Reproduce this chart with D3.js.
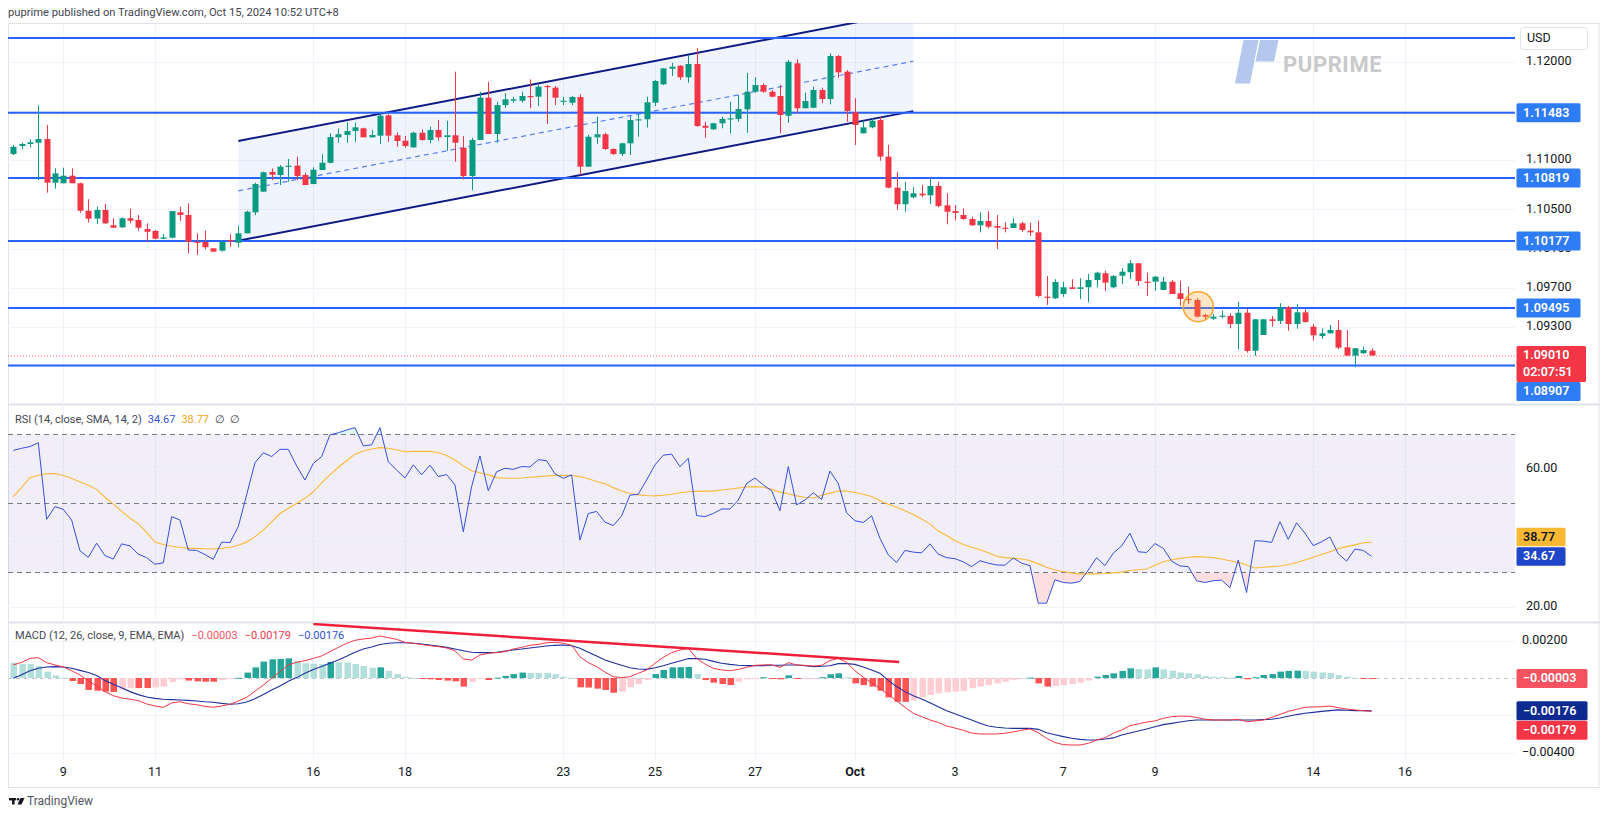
<!DOCTYPE html>
<html><head><meta charset="utf-8">
<script src="https://cdn.jsdelivr.net/npm/d3@7"></script>
<style>
html,body{margin:0;padding:0;background:#fff;}
svg{display:block;font-family:Roboto,"Noto Sans",sans-serif;}
</style></head><body>
<svg id="c" width="1600" height="819"></svg>
<script>
// ---------------- DATA ----------------
const opens=[1.11063,1.11145,1.11165,1.11178,1.11216,1.10771,1.10765,1.10842,1.10765,1.10485,
1.10404,1.10493,1.10337,1.10316,1.10408,1.10391,1.10299,1.10279,1.10200,1.10210,
1.10469,1.10442,1.10170,1.10167,1.10102,1.10078,1.10187,1.10159,1.10255,1.10469,
1.10679,1.10880,1.10849,1.10941,1.10944,1.10849,1.10757,1.10900,1.10974,1.11233,
1.11257,1.11297,1.11325,1.11233,1.11250,1.11457,1.11254,1.11199,1.11131,1.11280,
1.11206,1.11308,1.11236,1.11254,1.11127,1.10839,1.11206,1.11637,1.11267,1.11562,
1.11606,1.11606,1.11654,1.11647,1.11756,1.11739,1.11600,1.11586,1.11644,1.10934,
1.11233,1.11264,1.11114,1.11063,1.11172,1.11409,1.11417,1.11586,1.11773,1.11932,
1.11963,1.11845,1.11980,1.11351,1.11315,1.11376,1.11420,1.11420,1.11518,1.11698,
1.11766,1.11698,1.11654,1.11453,1.11987,1.11529,1.11535,1.11715,1.11623,1.12062,
1.11902,1.11488,1.11274,1.11335,1.11409,1.11036,1.10720,1.10551,1.10622,1.10659,
1.10642,1.10737,1.10540,1.10482,1.10442,1.10401,1.10337,1.10381,1.10330,1.10312,
1.10309,1.10357,1.10282,1.10265,1.09609,1.09593,1.09637,1.09705,1.09688,1.09705,
1.09779,1.09848,1.09705,1.09823,1.09858,1.09950,1.09762,1.09762,1.09678,1.09762,
1.09644,1.09586,1.09576,1.09423,1.09385,1.09406,1.09413,1.09331,1.09446,1.09059,
1.09219,1.09379,1.09362,1.09501,1.09331,1.09450,1.09304,1.09209,1.09236,1.09270,
1.09094,1.09008,1.09033,1.09059];
const highs=[1.11155,1.11178,1.11213,1.11559,1.11359,1.10917,1.10924,1.10917,1.10771,1.10602,
1.10526,1.10554,1.10408,1.10418,1.10506,1.10442,1.10357,1.10289,1.10248,1.10482,
1.10526,1.10561,1.10255,1.10282,1.10102,1.10187,1.10248,1.10330,1.10485,1.10771,
1.10883,1.10917,1.10951,1.11012,1.11036,1.10873,1.10928,1.11060,1.11274,1.11325,
1.11386,1.11382,1.11331,1.11308,1.11478,1.11468,1.11284,1.11246,1.11290,1.11315,
1.11341,1.11409,1.11402,1.11902,1.11246,1.11229,1.11698,1.11800,1.11596,1.11682,
1.11647,1.11698,1.11824,1.11766,1.11766,1.11756,1.11647,1.11654,1.11674,1.11257,
1.11443,1.11280,1.11121,1.11178,1.11450,1.11484,1.11647,1.11817,1.11936,1.11993,
1.11970,1.12072,1.12140,1.11392,1.11382,1.11443,1.11596,1.11664,1.11891,1.11845,
1.11783,1.11715,1.11766,1.12021,1.12028,1.11688,1.11749,1.11739,1.12089,1.12072,
1.11919,1.11631,1.11402,1.11427,1.11443,1.11155,1.10883,1.10781,1.10724,1.10747,
1.10816,1.10781,1.10663,1.10543,1.10510,1.10424,1.10469,1.10482,1.10442,1.10367,
1.10408,1.10373,1.10363,1.10384,1.09820,1.09787,1.09762,1.09787,1.09797,1.09841,
1.09864,1.09874,1.09830,1.09899,1.09983,1.09950,1.09854,1.09820,1.09813,1.09779,
1.09772,1.09711,1.09593,1.09433,1.09433,1.09467,1.09440,1.09558,1.09491,1.09379,
1.09379,1.09413,1.09542,1.09515,1.09535,1.09481,1.09331,1.09287,1.09321,1.09372,
1.09270,1.09084,1.09100,1.09084];
const lows=[1.11053,1.11111,1.11131,1.10798,1.10669,1.10710,1.10765,1.10765,1.10465,1.10363,
1.10350,1.10350,1.10312,1.10309,1.10357,1.10282,1.10170,1.10194,1.10194,1.10204,
1.10381,1.10051,1.10034,1.10092,1.10068,1.10068,1.10119,1.10113,1.10255,1.10442,
1.10679,1.10798,1.10747,1.10781,1.10798,1.10747,1.10757,1.10900,1.10968,1.11178,
1.11178,1.11188,1.11233,1.11233,1.11165,1.11188,1.11137,1.11127,1.11127,1.11199,
1.11172,1.11199,1.11097,1.10985,1.10805,1.10696,1.11206,1.11267,1.11178,1.11535,
1.11586,1.11586,1.11529,1.11552,1.11369,1.11562,1.11562,1.11562,1.10849,1.10934,
1.11165,1.11104,1.11053,1.11043,1.11053,1.11239,1.11335,1.11552,1.11766,1.11858,
1.11817,1.11790,1.11341,1.11229,1.11308,1.11325,1.11274,1.11392,1.11280,1.11688,
1.11688,1.11641,1.11274,1.11382,1.11478,1.11529,1.11529,1.11580,1.11569,1.11840,
1.11392,1.11155,1.11274,1.11325,1.10995,1.10714,1.10493,1.10475,1.10612,1.10622,
1.10554,1.10520,1.10347,1.10384,1.10391,1.10330,1.10265,1.10306,1.10095,1.10265,
1.10309,1.10268,1.10228,1.09603,1.09525,1.09586,1.09609,1.09688,1.09586,1.09552,
1.09705,1.09667,1.09695,1.09739,1.09790,1.09721,1.09616,1.09670,1.09678,1.09637,
1.09518,1.09535,1.09399,1.09372,1.09372,1.09389,1.09287,1.09073,1.09039,1.09005,
1.09219,1.09304,1.09331,1.09263,1.09283,1.09344,1.09161,1.09181,1.09236,1.09073,
1.09008,1.08890,1.09025,1.09005];
const closes=[1.11137,1.11165,1.11182,1.11216,1.10771,1.10866,1.10842,1.10765,1.10485,1.10404,
1.10493,1.10357,1.10312,1.10408,1.10384,1.10312,1.10271,1.10200,1.10214,1.10482,
1.10442,1.10170,1.10164,1.10113,1.10068,1.10167,1.10180,1.10255,1.10475,1.10757,
1.10877,1.10852,1.10934,1.10944,1.10839,1.10747,1.10903,1.10974,1.11236,1.11264,
1.11297,1.11335,1.11233,1.11257,1.11453,1.11250,1.11196,1.11145,1.11280,1.11206,
1.11308,1.11233,1.11254,1.11178,1.10839,1.11206,1.11637,1.11267,1.11562,1.11620,
1.11620,1.11654,1.11647,1.11749,1.11749,1.11637,1.11606,1.11644,1.10934,1.11239,
1.11264,1.11114,1.11063,1.11172,1.11409,1.11417,1.11590,1.11807,1.11936,1.11953,
1.11845,1.11980,1.11348,1.11331,1.11376,1.11420,1.11427,1.11522,1.11698,1.11766,
1.11698,1.11647,1.11460,1.12003,1.11529,1.11603,1.11715,1.11623,1.12062,1.11895,
1.11501,1.11359,1.11335,1.11402,1.11036,1.10720,1.10551,1.10686,1.10663,1.10642,
1.10737,1.10533,1.10475,1.10462,1.10401,1.10337,1.10381,1.10322,1.10312,1.10302,
1.10357,1.10289,1.10265,1.09616,1.09599,1.09759,1.09705,1.09688,1.09705,1.09779,
1.09854,1.09752,1.09820,1.09864,1.09950,1.09769,1.09752,1.09813,1.09762,1.09637,
1.09586,1.09576,1.09406,1.09406,1.09406,1.09416,1.09331,1.09446,1.09056,1.09379,
1.09379,1.09362,1.09501,1.09331,1.09450,1.09352,1.09216,1.09236,1.09270,1.09090,
1.09008,1.09084,1.09066,1.09010];
const rsi=[65.4,66.0,66.5,67.6,45.4,49.1,48.3,45.2,36.3,34.4,
38.5,34.9,33.9,38.3,37.7,35.3,34.3,32.4,32.8,46.2,
45.2,36.5,36.4,35.2,33.8,38.8,38.7,43.3,52.5,61.8,
64.7,63.6,65.7,65.7,60.9,56.8,61.6,63.6,69.9,70.5,
71.3,72.0,66.7,67.0,72.0,62.1,59.7,57.4,61.2,58.3,
61.1,57.8,58.4,55.4,41.8,54.9,63.8,53.7,59.2,60.2,
59.9,60.7,60.6,62.7,62.4,58.6,57.3,58.3,39.4,47.1,
47.7,44.6,43.6,46.4,52.4,52.7,56.8,61.2,64.0,64.3,
60.7,63.1,46.5,46.2,47.1,48.4,48.4,51.0,55.8,57.4,
55.4,53.7,47.9,60.7,49.6,51.0,53.1,51.2,59.4,55.8,
47.3,45.0,44.5,46.4,39.9,35.1,32.9,36.4,35.9,35.7,
38.3,35.3,34.3,34.0,33.1,31.7,33.4,32.7,32.2,32.1,
34.2,32.7,32.0,21.1,21.1,27.9,27.1,26.9,27.4,30.7,
34.3,32.0,35.6,37.7,41.4,36.0,35.8,38.4,37.0,33.3,
31.9,31.7,27.6,27.1,27.6,27.8,25.6,33.6,24.2,39.2,
39.1,38.7,44.7,39.6,44.4,41.4,37.8,38.9,40.3,35.4,
33.3,36.8,36.4,34.67];
const rsiSma=[52.0,54.7,57.5,58.2,58.6,58.7,58.1,57.3,56.2,55.3,
54.1,51.8,49.8,47.8,45.7,44.1,41.6,38.8,38.1,37.6,
37.3,37.0,37.0,36.9,36.8,37.0,37.3,37.9,38.8,40.4,
42.3,44.7,47.1,48.6,50.0,51.5,53.4,56.0,58.3,60.5,
62.4,64.3,65.2,65.8,66.2,66.0,65.6,65.0,65.1,65.1,
65.1,64.7,63.9,62.6,60.9,59.5,58.9,58.3,57.5,57.3,
57.3,57.4,57.6,57.8,58.0,58.1,58.2,58.1,57.8,57.2,
56.4,55.7,54.6,53.6,52.9,52.5,52.3,52.2,52.4,52.7,
53.1,53.4,53.5,53.6,53.6,53.9,54.2,54.5,54.8,54.9,
54.7,54.1,53.3,52.8,52.2,51.8,51.6,52.4,53.0,53.6,
53.6,53.2,52.7,52.0,50.8,49.8,48.9,47.9,46.8,45.5,
44.1,42.0,40.7,39.2,38.1,37.3,36.6,35.7,34.7,34.3,
34.1,33.9,33.5,32.5,31.5,30.7,30.3,29.9,29.6,29.6,
29.6,29.7,29.9,30.1,30.6,30.8,31.0,32.1,33.1,33.7,
34.1,34.4,34.6,34.5,34.3,33.9,33.4,32.9,32.2,31.3,
31.5,31.7,31.9,32.3,32.9,33.6,34.4,35.2,36.0,36.9,
37.5,38.0,38.6,38.77];
const macdLine=[0.00070,0.00084,0.00105,0.00109,0.00082,0.00070,0.00059,0.00039,0.00016,-0.00014,
-0.00043,-0.00073,-0.00095,-0.00107,-0.00114,-0.00121,-0.00139,-0.00150,-0.00157,-0.00134,
-0.00127,-0.00138,-0.00143,-0.00152,-0.00157,-0.00150,-0.00141,-0.00123,-0.00104,-0.00071,
-0.00038,-0.00002,0.00034,0.00070,0.00084,0.00093,0.00105,0.00118,0.00141,0.00164,
0.00186,0.00202,0.00209,0.00214,0.00225,0.00216,0.00207,0.00191,0.00186,0.00179,
0.00173,0.00168,0.00161,0.00146,0.00102,0.00096,0.00123,0.00132,0.00136,0.00141,
0.00155,0.00164,0.00175,0.00180,0.00189,0.00191,0.00186,0.00175,0.00114,0.00082,
0.00061,0.00032,0.00007,0.00002,0.00007,0.00025,0.00043,0.00079,0.00111,0.00136,
0.00150,0.00159,0.00105,0.00075,0.00052,0.00043,0.00039,0.00046,0.00057,0.00068,
0.00070,0.00071,0.00057,0.00082,0.00070,0.00068,0.00064,0.00068,0.00093,0.00105,
0.00084,0.00039,0.00004,-0.00025,-0.00057,-0.00088,-0.00123,-0.00157,-0.00189,-0.00207,
-0.00225,-0.00238,-0.00257,-0.00268,-0.00280,-0.00295,-0.00300,-0.00300,-0.00300,-0.00296,
-0.00289,-0.00280,-0.00273,-0.00293,-0.00323,-0.00346,-0.00357,-0.00359,-0.00359,-0.00350,
-0.00332,-0.00320,-0.00296,-0.00279,-0.00255,-0.00246,-0.00236,-0.00230,-0.00216,-0.00207,
-0.00204,-0.00205,-0.00211,-0.00221,-0.00225,-0.00225,-0.00225,-0.00221,-0.00234,-0.00230,
-0.00225,-0.00211,-0.00195,-0.00179,-0.00168,-0.00157,-0.00155,-0.00154,-0.00150,-0.00159,
-0.00166,-0.00171,-0.00175,-0.00179];
const signalLine=[-0.00002,0.00018,0.00039,0.00052,0.00059,0.00061,0.00059,0.00052,0.00041,0.00029,
0.00013,-0.00014,-0.00034,-0.00052,-0.00073,-0.00089,-0.00102,-0.00109,-0.00114,-0.00116,
-0.00118,-0.00120,-0.00123,-0.00127,-0.00130,-0.00136,-0.00141,-0.00138,-0.00129,-0.00111,
-0.00088,-0.00064,-0.00043,-0.00018,0.00002,0.00025,0.00045,0.00061,0.00079,0.00096,
0.00116,0.00138,0.00155,0.00166,0.00179,0.00186,0.00189,0.00189,0.00186,0.00182,
0.00177,0.00171,0.00164,0.00155,0.00146,0.00138,0.00136,0.00136,0.00138,0.00145,
0.00150,0.00155,0.00161,0.00166,0.00171,0.00175,0.00177,0.00173,0.00159,0.00138,
0.00118,0.00096,0.00082,0.00068,0.00055,0.00048,0.00046,0.00055,0.00066,0.00079,
0.00091,0.00104,0.00104,0.00100,0.00089,0.00079,0.00073,0.00068,0.00066,0.00066,
0.00066,0.00068,0.00068,0.00070,0.00070,0.00066,0.00061,0.00063,0.00066,0.00077,
0.00077,0.00073,0.00059,0.00043,0.00025,-0.00013,-0.00046,-0.00073,-0.00095,-0.00113,
-0.00132,-0.00154,-0.00175,-0.00191,-0.00209,-0.00225,-0.00243,-0.00257,-0.00264,-0.00268,
-0.00270,-0.00270,-0.00270,-0.00275,-0.00293,-0.00304,-0.00314,-0.00323,-0.00329,-0.00332,
-0.00332,-0.00327,-0.00321,-0.00305,-0.00295,-0.00284,-0.00273,-0.00261,-0.00250,-0.00243,
-0.00236,-0.00229,-0.00225,-0.00225,-0.00225,-0.00225,-0.00225,-0.00225,-0.00225,-0.00225,
-0.00223,-0.00221,-0.00214,-0.00205,-0.00196,-0.00189,-0.00184,-0.00179,-0.00175,-0.00171,
-0.00173,-0.00175,-0.00175,-0.00176];
const macdHist=[0.00082,0.00075,0.00075,0.00064,0.00034,0.00014,0.00002,-0.00016,-0.00032,-0.00064,
-0.00068,-0.00073,-0.00075,-0.00064,-0.00054,-0.00054,-0.00054,-0.00050,-0.00046,-0.00021,
-0.00007,-0.00014,-0.00018,-0.00020,-0.00020,-0.00011,-0.00005,0.00001,0.00029,0.00057,
0.00088,0.00100,0.00102,0.00105,0.00091,0.00079,0.00077,0.00075,0.00086,0.00084,
0.00083,0.00075,0.00064,0.00055,0.00057,0.00038,0.00021,0.00007,0.00002,-0.00005,
-0.00007,-0.00011,-0.00014,-0.00018,-0.00046,-0.00021,-0.00005,-0.00011,0.00002,0.00011,
0.00021,0.00029,0.00027,0.00027,0.00027,0.00021,0.00007,0.00001,-0.00050,-0.00051,
-0.00057,-0.00064,-0.00079,-0.00073,-0.00050,-0.00032,-0.00011,0.00021,0.00043,0.00057,
0.00058,0.00059,0.00021,-0.00011,-0.00025,-0.00032,-0.00038,-0.00020,-0.00007,-0.00001,
0.00004,-0.00004,-0.00007,0.00014,-0.00004,-0.00002,-0.00001,0.00004,0.00020,0.00025,
0.00004,-0.00029,-0.00038,-0.00046,-0.00068,-0.00104,-0.00127,-0.00128,-0.00121,-0.00104,
-0.00091,-0.00082,-0.00077,-0.00073,-0.00070,-0.00055,-0.00046,-0.00038,-0.00029,-0.00020,
-0.00011,-0.00005,0.00002,-0.00029,-0.00046,-0.00043,-0.00038,-0.00032,-0.00025,-0.00014,
0.00007,0.00016,0.00025,0.00038,0.00052,0.00048,0.00046,0.00057,0.00046,0.00039,
0.00030,0.00025,0.00020,0.00011,0.00007,0.00006,0.00002,0.00011,-0.00007,0.00004,
0.00016,0.00021,0.00034,0.00038,0.00039,0.00038,0.00034,0.00030,0.00027,0.00016,
0.00007,0.00001,-0.00002,-0.00003];

const levelPrices=[1.12245,1.11483,1.10819,1.10177,1.09495,1.08907];
const levelLabeled=[false,true,true,true,true,true];
const priceTicks=[1.12,1.115,1.11,1.105,1.101,1.097,1.093,1.089,1.085];
const priceTickLabels=[1.12,1.11,1.105,1.097,1.093];
const partialTickLabels=[1.101,1.085];
const rsiTicks=[60,40,20];
const rsiTickLabels=[60,20];
const rsiLevels=[70,50,30];
const macdTicks=[0.002,-0.002,-0.004];
const macdTickLabels=[0.002,-0.004];
const dateIdx=[6,17,36,47,66,77,89,101,113,126,137,156,167];
const dateLabels=["9","11","16","18","23","25","27","Oct","3","7","9","14","16"];
const channelIdx=[27,108];
const channelLower=[1.10180,1.11500];
const channelUpper=[1.11196,1.12516];
const trendIdx=[36,106.3];
const trendVal=[0.00289,0.00086];
const markerIdx=142.2, markerPrice=1.09507;
const lastPrice=1.09010, countdown="02:07:51";

// ---------------- LAYOUT ----------------
const L=8, R=1515;
const svg=d3.select('#c');
const x=d3.scaleLinear().domain([0,163]).range([13.3,1371.6]);
const y=d3.scaleLinear().domain([1.12398,1.08526]).range([23,403]);
const ry=d3.scaleLinear().domain([78.55,15.94]).range([405,621]);
const my=d3.scaleLinear().domain([0.002946,-0.004393]).range([623,760]);
const idx=d3.range(opens.length);
const UP="#089981", DN="#f23645";

const defs=svg.append('defs');
function clip(id,x0,y0,w,h){defs.append('clipPath').attr('id',id).append('rect').attr('x',x0).attr('y',y0).attr('width',w).attr('height',h);}
clip('cm',L,23,R-L,381); clip('cr',L,405,R-L,216); clip('cq',L,623,R-L,137);
clip('cax',R,23,100,381);
clip('rsiLow',L,ry(30),R-L,621-ry(30)); clip('rsiHigh',L,405,R-L,ry(70)-405);

svg.append('rect').attr('width',1600).attr('height',819).attr('fill','#fff');

// header
svg.append('text').attr('x',8).attr('y',13).attr('dominant-baseline','middle')
  .attr('font-size',11.2).attr('fill','#434651').text('puprime published on TradingView.com, Oct 15, 2024 10:52 UTC+8');

// borders
const border='#e0e3eb';
svg.append('rect').attr('x',L+0.5).attr('y',23.5).attr('width',1600-L-1.5).attr('height',764).attr('fill','none').attr('stroke',border);
[404,622].forEach(v=>svg.append('line').attr('x1',L).attr('x2',1600).attr('y1',v+0.5).attr('y2',v+0.5).attr('stroke',border).attr('stroke-width',2));

// vertical grid
const grid='#f0f3fa';
svg.append('g').selectAll('line').data(dateIdx).join('line')
  .attr('x1',d=>Math.round(x(d))+0.5).attr('x2',d=>Math.round(x(d))+0.5).attr('y1',24).attr('y2',760)
  .attr('stroke',grid);
// horizontal grid main
const gm=svg.append('g').attr('clip-path','url(#cm)');
gm.selectAll('line.g').data(priceTicks).join('line')
  .attr('x1',L).attr('x2',R).attr('y1',d=>Math.round(y(d))+0.5).attr('y2',d=>Math.round(y(d))+0.5).attr('stroke',grid);

// watermark
const wm=svg.append('g');
wm.append('polygon').attr('points','1243.5,40 1258.5,40 1250,83.5 1235,83.5').attr('fill','#b3c8ec');
wm.append('polygon').attr('points','1260,40 1278.5,40 1274,61.5 1255.5,61.5').attr('fill','#b3c8ec');
wm.append('text').attr('x',1283).attr('y',71.5).attr('font-size',22).attr('font-weight',700)
  .attr('fill','#c9c9c9').attr('letter-spacing',0.6).text('PUPRIME');

// channel
const pts=[[x(channelIdx[0]),y(channelUpper[0])],[x(channelIdx[1]),y(channelUpper[1])],
           [x(channelIdx[1]),y(channelLower[1])],[x(channelIdx[0]),y(channelLower[0])]];
gm.append('polygon').attr('points',pts.map(p=>p.join(',')).join(' ')).attr('fill','rgba(41,98,255,0.07)');
const midLine=[(channelUpper[0]+channelLower[0])/2,(channelUpper[1]+channelLower[1])/2];
gm.append('line').attr('x1',x(channelIdx[0])).attr('x2',x(channelIdx[1]))
  .attr('y1',y(midLine[0])).attr('y2',y(midLine[1])).attr('stroke','#5b7ff5').attr('stroke-width',1.2).attr('stroke-dasharray','5,4');
[channelUpper,channelLower].forEach(c=>gm.append('line').attr('x1',x(channelIdx[0])).attr('x2',x(channelIdx[1]))
  .attr('y1',y(c[0])).attr('y2',y(c[1])).attr('stroke','#0e1a84').attr('stroke-width',2));

// level lines
gm.selectAll('line.lv').data(levelPrices).join('line')
  .attr('x1',L).attr('x2',R).attr('y1',d=>y(d)).attr('y2',d=>y(d)).attr('stroke','#2962ff').attr('stroke-width',2);

// last price dotted
gm.append('line').attr('x1',L).attr('x2',R).attr('y1',y(lastPrice)+0.5).attr('y2',y(lastPrice)+0.5)
  .attr('stroke',DN).attr('stroke-dasharray','1,2').attr('opacity',0.8);

// candles
const gc=gm.append('g');
gc.selectAll('line.w').data(idx).join('line')
  .attr('x1',i=>Math.round(x(i))+0.5).attr('x2',i=>Math.round(x(i))+0.5)
  .attr('y1',i=>y(highs[i])).attr('y2',i=>y(lows[i]))
  .attr('stroke',i=>closes[i]>=opens[i]?UP:DN).attr('stroke-width',1);
gc.selectAll('rect.b').data(idx).join('rect')
  .attr('x',i=>Math.round(x(i))-2.5).attr('width',6)
  .attr('y',i=>y(Math.max(opens[i],closes[i])))
  .attr('height',i=>Math.max(1.2,Math.abs(y(opens[i])-y(closes[i]))))
  .attr('fill',i=>closes[i]>=opens[i]?UP:DN);

// marker
gm.append('circle').attr('cx',x(markerIdx)).attr('cy',y(markerPrice)).attr('r',15)
  .attr('fill','rgba(255,160,40,0.28)').attr('stroke','#f6a531').attr('stroke-width',1.5);

// price axis
const f5=d3.format('.5f');
const gax=svg.append('g').attr('clip-path','url(#cax)');
gax.selectAll('text.t').data(priceTickLabels).join('text').attr('x',1526).attr('y',d=>y(d)).attr('dominant-baseline','middle')
  .attr('font-size',12.5).attr('fill','#131722').text(f5);
// labels partly hidden behind level boxes: only their lower slice shows
partialTickLabels.forEach((p,k)=>{
  const top=y(p)+1.5;
  defs.append('clipPath').attr('id','pt'+k).append('rect').attr('x',R).attr('y',top).attr('width',90).attr('height',Math.max(0,404-top));
  svg.append('text').attr('clip-path','url(#pt'+k+')').attr('x',1526).attr('y',y(p)).attr('dominant-baseline','middle')
    .attr('font-size',12.5).attr('fill','#131722').text(f5(p));
});
// USD box
svg.append('rect').attr('x',1520.5).attr('y',27.5).attr('width',67).attr('height',22).attr('rx',3)
  .attr('fill','#fff').attr('stroke','#e0e3eb');
svg.append('text').attr('x',1527).attr('y',38.5).attr('dominant-baseline','middle').attr('font-size',12.5).attr('fill','#131722').text('USD');

function box(yc,h,w,bg,lines,fg){
  svg.append('rect').attr('x',1516.5).attr('y',yc-h/2).attr('width',w).attr('height',h).attr('rx',1.5).attr('fill',bg);
  lines.forEach(t=>svg.append('text').attr('x',1523).attr('y',yc+0.5).attr('dominant-baseline','middle')
    .attr('font-size',12.5).attr('font-weight',600).attr('fill',fg).text(t));
}
// red last price box
const lpY=y(lastPrice);
const redTop=lpY-9.5, redH=36;
svg.append('rect').attr('x',1516.5).attr('y',redTop).attr('width',69.5).attr('height',redH).attr('rx',1.5).attr('fill','#f23645');
svg.append('text').attr('x',1523).attr('y',lpY+0.5).attr('dominant-baseline','middle').attr('font-size',12.5).attr('font-weight',600).attr('fill','#fff').text(f5(lastPrice));
svg.append('text').attr('x',1523).attr('y',lpY+17.5).attr('dominant-baseline','middle').attr('font-size',12.5).attr('font-weight',600).attr('fill','#fff').text(countdown);
// level labels
levelPrices.forEach((p,k)=>{
  if(!levelLabeled[k]) return;
  let yc=y(p);
  if(yc+9.5>redTop && yc-9.5<redTop+redH) yc=redTop+redH+9.5;
  box(yc,19,64,'#2e7cf6',[f5(p)],'#fff');
});

// ---------------- RSI ----------------
const gr=svg.append('g').attr('clip-path','url(#cr)');
gr.append('rect').attr('x',L).attr('width',R-L).attr('y',ry(70)).attr('height',ry(30)-ry(70)).attr('fill','rgba(126,87,194,0.1)');
gr.selectAll('line.g').data(rsiTicks).join('line').attr('x1',L).attr('x2',R)
  .attr('y1',d=>Math.round(ry(d))+0.5).attr('y2',d=>Math.round(ry(d))+0.5).attr('stroke',grid);
gr.selectAll('line.d').data(rsiLevels).join('line').attr('x1',L).attr('x2',R)
  .attr('y1',d=>Math.round(ry(d))+0.5).attr('y2',d=>Math.round(ry(d))+0.5).attr('stroke','#787b86').attr('stroke-dasharray','5,4');
const rArea=d3.area().x(i=>x(i)).y1(i=>ry(rsi[i]));
gr.append('path').attr('clip-path','url(#rsiLow)').attr('d',rArea.y0(ry(30))(idx)).attr('fill','rgba(242,54,69,0.16)');
gr.append('path').attr('clip-path','url(#rsiHigh)').attr('d',rArea.y0(ry(70))(idx)).attr('fill','rgba(8,153,129,0.12)');
gr.append('path').attr('d',d3.line().x(i=>x(i)).y(i=>ry(rsiSma[i]))(idx)).attr('fill','none').attr('stroke','#f9b935').attr('stroke-width',1.1);
gr.append('path').attr('d',d3.line().x(i=>x(i)).y(i=>ry(rsi[i]))(idx)).attr('fill','none').attr('stroke','#3350d8').attr('stroke-width',1);
svg.selectAll('text.rt').data(rsiTickLabels).join('text').attr('x',1526).attr('y',d=>ry(d)).attr('dominant-baseline','middle')
  .attr('font-size',12.5).attr('fill','#131722').text(d=>d.toFixed(2));
const rsiLast=rsi[rsi.length-1], smaLast=rsiSma[rsiSma.length-1];
let cR=ry(rsiLast), cS=ry(smaLast);
if(Math.abs(cR-cS)<19.5) cS=cR-19.5;
box(cS,18.5,49,'#f9b935',[smaLast.toFixed(2)],'#131722');
box(cR,18.5,49,'#1f45c8',[rsiLast.toFixed(2)],'#fff');
const rl=svg.append('text').attr('x',15).attr('y',419.5).attr('dominant-baseline','middle').attr('font-size',11);
rl.append('tspan').attr('fill','#434651').text('RSI (14, close, SMA, 14, 2)');
rl.append('tspan').attr('dx',6).attr('fill','#3350d8').text(rsiLast.toFixed(2));
rl.append('tspan').attr('dx',6).attr('fill','#f5a623').text(smaLast.toFixed(2));
rl.append('tspan').attr('dx',6).attr('fill','#434651').text('\u2205');
rl.append('tspan').attr('dx',5).attr('fill','#434651').text('\u2205');

// ---------------- MACD ----------------
const gq=svg.append('g').attr('clip-path','url(#cq)');
gq.selectAll('line.g').data(macdTicks).join('line').attr('x1',L).attr('x2',R)
  .attr('y1',d=>Math.round(my(d))+0.5).attr('y2',d=>Math.round(my(d))+0.5).attr('stroke',grid);
gq.append('line').attr('x1',L).attr('x2',R).attr('y1',Math.round(my(0))+0.5).attr('y2',Math.round(my(0))+0.5)
  .attr('stroke','#c3c6ce').attr('stroke-dasharray','4,4');
function histColor(i){const h=macdHist[i], p=i>0?macdHist[i-1]:h;
  if(h>=0) return p<h?'#26a69a':'#b2dfdb'; return p<h?'#ffcdd2':'#ff5252';}
gq.selectAll('rect.h').data(idx).join('rect')
  .attr('x',i=>Math.round(x(i))-2.5).attr('width',6.5)
  .attr('y',i=>Math.min(my(0),my(macdHist[i]))).attr('height',i=>Math.max(1,Math.abs(my(macdHist[i])-my(0))))
  .attr('fill',histColor);
gq.append('path').attr('d',d3.line().x(i=>x(i)).y(i=>my(signalLine[i]))(idx)).attr('fill','none').attr('stroke','#1e2f9e').attr('stroke-width',1.1);
gq.append('path').attr('d',d3.line().x(i=>x(i)).y(i=>my(macdLine[i]))(idx)).attr('fill','none').attr('stroke','#f23645').attr('stroke-width',1);
gq.append('line').attr('x1',x(trendIdx[0])).attr('x2',x(trendIdx[1])).attr('y1',my(trendVal[0])).attr('y2',my(trendVal[1]))
  .attr('stroke','#ef1f3a').attr('stroke-width',2.5);
const f5s=d3.format('.5f');
svg.selectAll('text.mt').data(macdTickLabels).join('text').attr('x',1522).attr('y',d=>my(d)).attr('dominant-baseline','middle')
  .attr('font-size',12.5).attr('fill','#131722').text(d=>(d<0?'\u2212':'')+f5s(Math.abs(d)));
const hL=macdHist[macdHist.length-1], mL=macdLine[macdLine.length-1], sL=signalLine[signalLine.length-1];
const fm=d=>(d<0?'\u2212':'')+f5s(Math.abs(d));
let cH=my(hL), cS2=my(sL), cM=my(mL);
if(Math.abs(cM-cS2)<19.5) cM=cS2+19.5;
box(cH,19,71,'#f7525f',[fm(hL)],'#fff');
box(cS2,19,71,'#0c2a8f',[fm(sL)],'#fff');
box(cM,19,71,'#f23645',[fm(mL)],'#fff');
const ml=svg.append('text').attr('x',15).attr('y',636).attr('dominant-baseline','middle').attr('font-size',11);
ml.append('tspan').attr('fill','#434651').text('MACD (12, 26, close, 9, EMA, EMA)');
ml.append('tspan').attr('dx',7).attr('fill','#f7525f').text(f5s(hL));
ml.append('tspan').attr('dx',7).attr('fill','#f23645').text(f5s(mL));
ml.append('tspan').attr('dx',7).attr('fill','#3350d8').text(f5s(sL));

// ---------------- TIME AXIS ----------------
svg.selectAll('text.dt').data(dateIdx).join('text').attr('x',d=>x(d)).attr('y',773).attr('text-anchor','middle')
  .attr('dominant-baseline','middle').attr('font-size',12.5).attr('fill','#131722')
  .attr('font-weight',(d,k)=>dateLabels[k]==='Oct'?700:400).text((d,k)=>dateLabels[k]);

// TradingView footer
const tv=svg.append('g');
tv.append('rect').attr('x',9).attr('y',798).attr('width',7).attr('height',2.4).attr('fill','#131722');
tv.append('rect').attr('x',12).attr('y',798).attr('width',2.6).attr('height',6.5).attr('fill','#131722');
tv.append('circle').attr('cx',18).attr('cy',799.3).attr('r',1.3).attr('fill','#131722');
tv.append('polygon').attr('points','20.5,798 24.5,798 21.5,804.5 17.5,804.5').attr('fill','#131722');
tv.append('text').attr('x',27).attr('y',802).attr('dominant-baseline','middle').attr('font-size',12).attr('fill','#50535e').text('TradingView');
</script>
</body></html>
